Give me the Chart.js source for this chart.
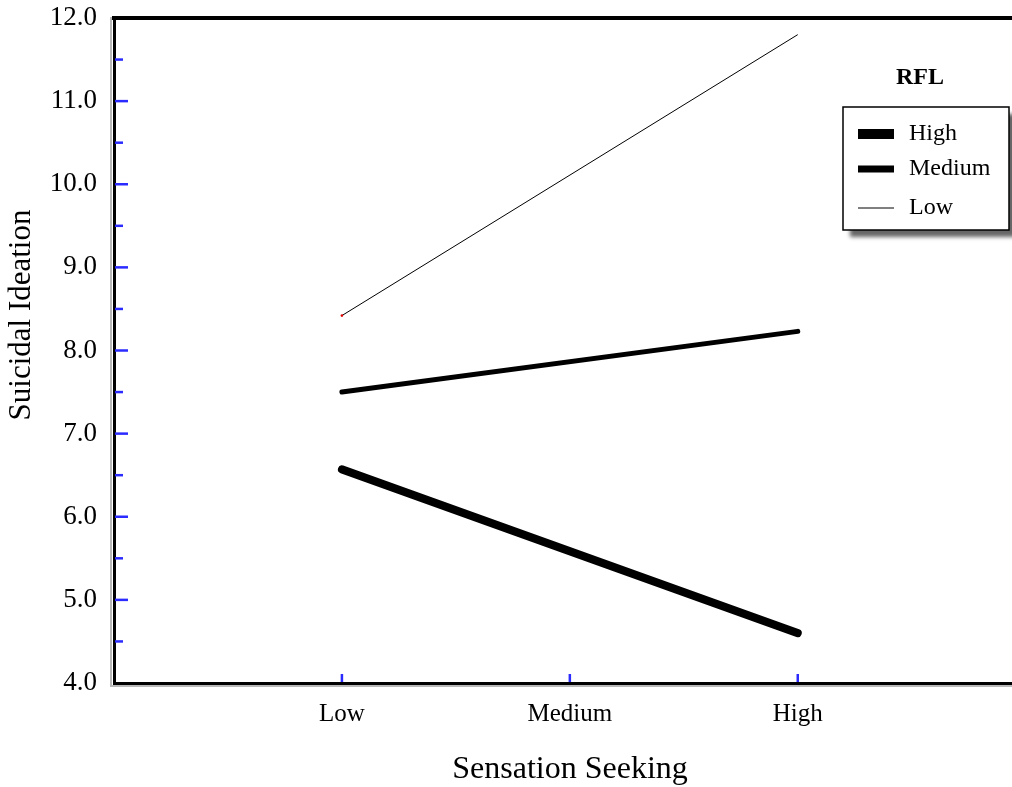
<!DOCTYPE html>
<html><head><meta charset="utf-8">
<script src="https://cdn.jsdelivr.net/npm/chart.js@4"></script>
<style>html,body{margin:0;padding:0;background:#fff;overflow:hidden}#wrap{width:1012px;height:787px;position:relative;overflow:hidden}</style>
</head><body><div id="wrap"><canvas id="c" width="1016" height="787"></canvas></div>
<script>
// ---- data ----
const categories = ['Low', 'Medium', 'High'];        // Sensation Seeking
const yTicks = [4, 5, 6, 7, 8, 9, 10, 11, 12];
const legendTitle = 'RFL';
const xTitle = 'Sensation Seeking';
const yTitle = 'Suicidal Ideation';
const seriesNames = ['High', 'Medium', 'Low'];      // RFL levels
const rflHigh   = [6.57, null, 4.60];
const rflMedium = [7.50, null, 8.23];
const rflLow    = [8.42, null, 11.80];

const toPts = arr => arr.map((v, i) => ({x: i + 1, y: v}));
const FONT = "'Liberation Serif', 'Times New Roman', serif";
const noPad = s => { s.paddingTop = 0; s.paddingBottom = 0; s.paddingLeft = 0; s.paddingRight = 0; };

const overlay = {
  id: 'overlay',
  beforeDraw(chart) {
    const {ctx, chartArea: a} = chart;
    ctx.save();
    ctx.strokeStyle = '#b8b8b8';
    ctx.lineWidth = 2;
    ctx.beginPath();
    ctx.moveTo(a.left - 3, a.top - 1); ctx.lineTo(a.left - 3, a.bottom + 3);
    ctx.lineTo(a.right + 4, a.bottom + 3);
    ctx.stroke();
    ctx.restore();
  },
  afterDraw(chart) {
    const {ctx, chartArea: a, scales} = chart;
    const xs = scales.x, ys = scales.y;
    ctx.save();
    ctx.strokeStyle = '#2b2bff';
    ctx.lineWidth = 2.5;
    for (let i = 0; i < yTicks.length; i++) {
      const v = yTicks[i];
      if (v !== yTicks[0] && v !== yTicks[yTicks.length - 1]) {
        const y = ys.getPixelForValue(v);
        ctx.beginPath(); ctx.moveTo(a.left + 1, y); ctx.lineTo(a.left + 14, y); ctx.stroke();
      }
      if (i < yTicks.length - 1) {
        const m = ys.getPixelForValue((v + yTicks[i + 1]) / 2);
        ctx.beginPath(); ctx.moveTo(a.left + 1, m); ctx.lineTo(a.left + 9, m); ctx.stroke();
      }
    }
    categories.forEach((c, i) => {
      const x = xs.getPixelForValue(i + 1);
      ctx.beginPath(); ctx.moveTo(x, a.bottom - 1); ctx.lineTo(x, a.bottom - 9); ctx.stroke();
    });
    ctx.fillStyle = '#000';
    ctx.textAlign = 'center';
    ctx.textBaseline = 'middle';
    ctx.font = '32px ' + FONT;
    ctx.fillText(xTitle, 570, 770);
    ctx.save();
    ctx.translate(22, 315);
    ctx.rotate(-Math.PI / 2);
    ctx.font = '31px ' + FONT;
    ctx.fillText(yTitle, 0, 0);
    ctx.restore();
    ctx.font = 'bold 24px ' + FONT;
    ctx.fillText(legendTitle, 920, 78);
    const bx = 843, by = 107, bw = 166, bh = 123;
    ctx.save();
    ctx.shadowColor = 'rgba(0,0,0,0.6)';
    ctx.shadowOffsetX = 7; ctx.shadowOffsetY = 7; ctx.shadowBlur = 4;
    ctx.fillStyle = '#fff';
    ctx.fillRect(bx, by, bw, bh);
    ctx.restore();
    ctx.strokeStyle = '#000';
    ctx.lineWidth = 1.5;
    ctx.strokeRect(bx, by, bw, bh);
    const rows = [134, 169, 208];
    chart.data.datasets.forEach((ds, i) => {
      const y = rows[i];
      ctx.strokeStyle = '#000';
      ctx.lineWidth = ds.borderWidth > 1 ? ds.borderWidth + 2 : 1;
      ctx.lineCap = 'butt';
      ctx.beginPath(); ctx.moveTo(858, y); ctx.lineTo(894, y); ctx.stroke();
      ctx.fillStyle = '#000';
      ctx.textAlign = 'left';
      ctx.font = '24px ' + FONT;
      ctx.fillText(ds.label, 909, y);
    });
    ctx.restore();
  }
};

new Chart(document.getElementById('c'), {
  type: 'line',
  data: {
    datasets: [
      {label: seriesNames[0], data: toPts(rflHigh), borderColor: '#000', borderWidth: 8, pointRadius: 0, spanGaps: true, borderCapStyle: 'round'},
      {label: seriesNames[1], data: toPts(rflMedium), borderColor: '#000', borderWidth: 5, pointRadius: 0, spanGaps: true, borderCapStyle: 'round'},
      {label: seriesNames[2], data: toPts(rflLow), borderColor: '#000', borderWidth: 1, pointRadius: [1.3, 0, 0], pointBorderWidth: 0, pointBackgroundColor: '#e00000', spanGaps: true}
    ]
  },
  options: {
    responsive: false,
    animation: false,
    layout: {padding: 0},
    plugins: {legend: {display: false}, title: {display: false}, tooltip: {enabled: false}},
    scales: {
      x: {
        type: 'linear', position: 'bottom', min: 0, max: 3.94,
        afterBuildTicks: s => { s.ticks = categories.map((c, i) => ({value: i + 1})); },
        afterFit: s => { s.height = 104; noPad(s); },
        ticks: {callback: v => categories[v - 1], color: '#000', font: {family: FONT, size: 25}, padding: 16, maxRotation: 0, autoSkip: false},
        grid: {display: false, drawTicks: false},
        border: {display: true, color: '#000', width: 3}
      },
      xTop: {
        type: 'linear', position: 'top', min: 0, max: 1, display: true,
        afterFit: s => { s.height = 18; noPad(s); },
        ticks: {display: false},
        grid: {display: false, drawTicks: false},
        border: {display: true, color: '#000', width: 4}
      },
      y: {
        type: 'linear', position: 'left', min: yTicks[0], max: yTicks[yTicks.length - 1],
        afterBuildTicks: s => { s.ticks = yTicks.map(v => ({value: v})); },
        afterFit: s => { s.width = 114; noPad(s); },
        ticks: {callback: v => Number(v).toFixed(1), color: '#000', font: {family: FONT, size: 27}, padding: 17},
        grid: {display: false, drawTicks: false},
        border: {display: true, color: '#000', width: 3}
      }
    }
  },
  plugins: [overlay]
});
</script>
</body></html>
